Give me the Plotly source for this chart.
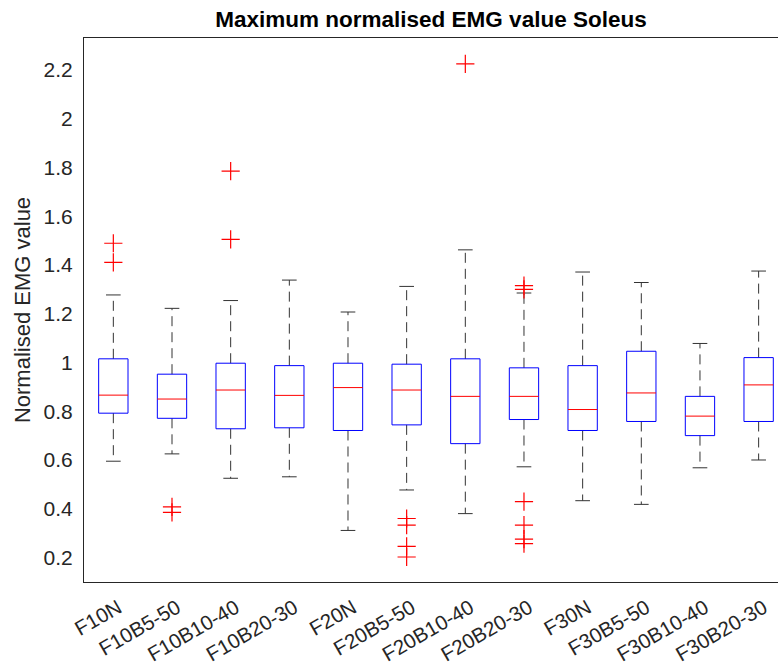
import plotly.graph_objects as go

categories = ["F10N", "F10B5-50", "F10B10-40", "F10B20-30", "F20N", "F20B5-50",
              "F20B10-40", "F20B20-30", "F30N", "F30B5-50", "F30B10-40", "F30B20-30"]
upper_whisker = [1.277, 1.222, 1.254, 1.338, 1.207, 1.312, 1.462, 1.285, 1.371, 1.328, 1.078, 1.375]
q3 = [1.015, 0.952, 0.997, 0.987, 0.997, 0.993, 1.015, 0.978, 0.987, 1.046, 0.861, 1.020]
median = [0.866, 0.850, 0.887, 0.865, 0.897, 0.887, 0.861, 0.861, 0.807, 0.875, 0.780, 0.908]
q1 = [0.792, 0.771, 0.728, 0.732, 0.721, 0.744, 0.667, 0.766, 0.721, 0.758, 0.700, 0.758]
lower_whisker = [0.595, 0.625, 0.525, 0.531, 0.311, 0.477, 0.380, 0.572, 0.433, 0.418, 0.568, 0.600]
outlier_group = ["F10N", "F10N", "F10B5-50", "F10B5-50", "F10B10-40", "F10B10-40",
                 "F20B5-50", "F20B5-50", "F20B5-50", "F20B5-50", "F20B10-40",
                 "F20B20-30", "F20B20-30", "F20B20-30", "F20B20-30", "F20B20-30", "F20B20-30"]
outlier_value = [1.489, 1.411, 0.408, 0.385, 1.785, 1.505,
                 0.360, 0.333, 0.246, 0.202, 2.225,
                 1.315, 1.300, 0.429, 0.333, 0.275, 0.257]

pos = list(range(1, len(categories) + 1))
hw = 0.25   # half box width
cw = 0.125  # half cap width

bx, by, mx, my, wx, wy, cx, cy = [], [], [], [], [], [], [], []
for p, lo, a, m, b, hi in zip(pos, lower_whisker, q1, median, q3, upper_whisker):
    bx += [p - hw, p + hw, p + hw, p - hw, p - hw, None]
    by += [a, a, b, b, a, None]
    mx += [p - hw, p + hw, None]
    my += [m, m, None]
    wx += [p, p, None, p, p, None]
    wy += [b, hi, None, a, lo, None]
    cx += [p - cw, p + cw, None, p - cw, p + cw, None]
    cy += [hi, hi, None, lo, lo, None]

ox = [pos[categories.index(g)] for g in outlier_group]

fig = go.Figure()
fig.add_trace(go.Scatter(x=wx, y=wy, mode="lines", line=dict(color="#333333", width=1, dash="10px,6px"),
                         hoverinfo="skip", showlegend=False))
fig.add_trace(go.Scatter(x=cx, y=cy, mode="lines", line=dict(color="#333333", width=1),
                         hoverinfo="skip", showlegend=False))
fig.add_trace(go.Scatter(x=bx, y=by, mode="lines", line=dict(color="#0000ff", width=1),
                         showlegend=False))
fig.add_trace(go.Scatter(x=mx, y=my, mode="lines", line=dict(color="#ff0000", width=1),
                         showlegend=False))
fig.add_trace(go.Scatter(x=ox, y=outlier_value, mode="markers",
                         marker=dict(symbol="cross-thin-open", size=13, color="#ff0000",
                                     line=dict(color="#ff0000", width=1.2)),
                         showlegend=False))

font = "Liberation Sans, Arial, sans-serif"
fig.update_layout(
    width=778, height=666,
    margin=dict(l=84, r=0, t=38, b=84),
    paper_bgcolor="white", plot_bgcolor="white",
    font=dict(family=font, color="#262626", size=21),
    title=dict(text="<b>Maximum normalised EMG value Soleus</b>", x=0.5, xref="paper",
               y=1 - 19 / 666, yref="container", yanchor="middle", xanchor="center",
               font=dict(family=font, size=22.5, color="black")),
    xaxis=dict(range=[0.5, 12.33], tickmode="array", tickvals=pos, ticktext=categories,
               tickangle=-30, showgrid=False, zeroline=False, showline=True, mirror=True,
               linecolor="#262626", linewidth=1, ticks="", tickfont=dict(size=20.5),
               ticklabelstandoff=5, ticklabelshift=5, automargin=False),
    yaxis=dict(range=[0.0995, 2.331], tickmode="array",
               tickvals=[0.2, 0.4, 0.6, 0.8, 1.0, 1.2, 1.4, 1.6, 1.8, 2.0, 2.2],
               ticktext=["0.2", "0.4", "0.6", "0.8", "1", "1.2", "1.4", "1.6", "1.8", "2", "2.2"],
               showgrid=False, zeroline=False, showline=True, mirror=False,
               linecolor="#262626", linewidth=1, ticks="", ticklabelstandoff=6,
               tickfont=dict(size=21), automargin=False,
               title=dict(text="Normalised EMG value", standoff=6, font=dict(size=22))),
)

fig.write_html("out.html")
